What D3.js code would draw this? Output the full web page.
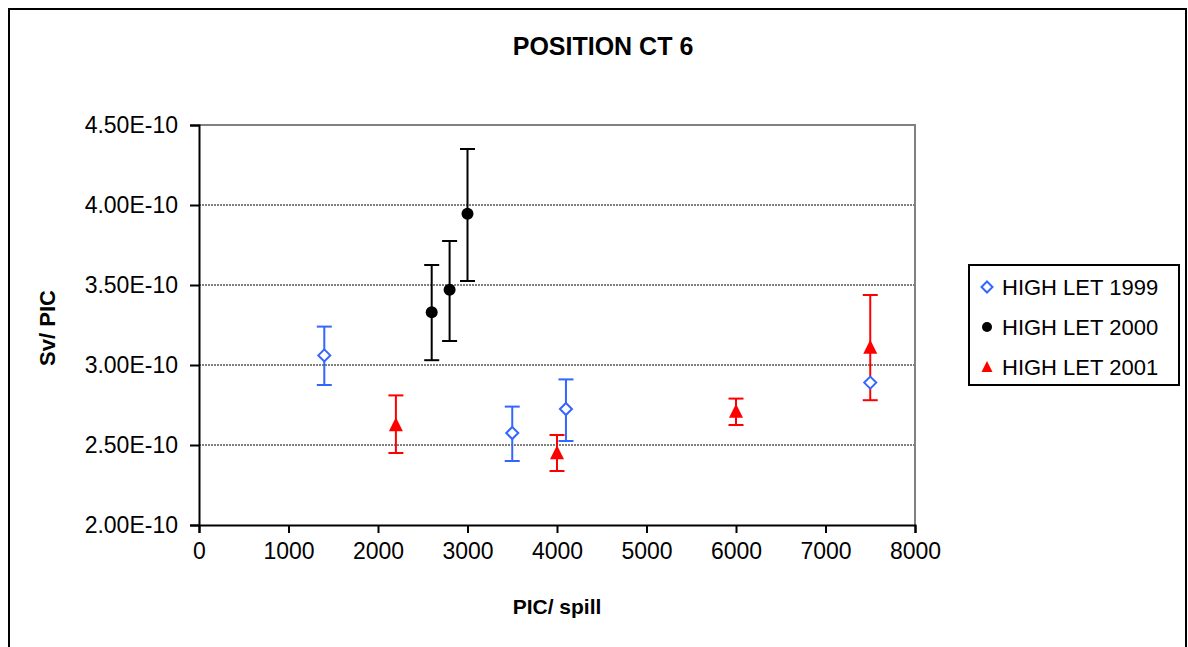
<!DOCTYPE html>
<html>
<head>
<meta charset="utf-8">
<script src="https://cdn.jsdelivr.net/npm/d3@7"></script>
<style>
  body { margin: 0; background: #fff; }
  svg { display: block; font-family: "Liberation Sans", Arial, sans-serif; }
</style>
</head>
<body>
<div id="chart"></div>
<script>
// Values (y in Sv/PIC)
const xTicks = [0, 1000, 2000, 3000, 4000, 5000, 6000, 7000, 8000];
const yTicks = [2.0e-10, 2.5e-10, 3.0e-10, 3.5e-10, 4.0e-10, 4.5e-10];

const names = ["HIGH LET 1999", "HIGH LET 2000", "HIGH LET 2001"];

const x1999 = [1400, 3500, 4100, 7500];
const y1999 = [3.06e-10, 2.575e-10, 2.725e-10, 2.89e-10];
const hi1999 = [3.24e-10, 2.74e-10, 2.91e-10, null];
const lo1999 = [2.875e-10, 2.40e-10, 2.525e-10, null];

const x2000 = [2600, 2800, 3000];
const y2000 = [3.33e-10, 3.47e-10, 3.945e-10];
const hi2000 = [3.625e-10, 3.775e-10, 4.35e-10];
const lo2000 = [3.03e-10, 3.15e-10, 3.525e-10];

const x2001 = [2200, 4000, 6000, 7500];
const y2001 = [2.625e-10, 2.45e-10, 2.71e-10, 3.11e-10];
const hi2001 = [2.81e-10, 2.5625e-10, 2.79e-10, 3.4375e-10];
const lo2001 = [2.45e-10, 2.3375e-10, 2.625e-10, 2.78e-10];

const width = 1188, height = 647;
const plot = {left: 199, right: 915, top: 125, bottom: 525};

const svg = d3.select("#chart").append("svg")
    .attr("width", width)
    .attr("height", height);

// outer frame (runs off the bottom of the picture)
svg.append("rect")
    .attr("x", 9).attr("y", 9)
    .attr("width", 1177).attr("height", 680)
    .attr("fill", "none")
    .attr("stroke", "#000")
    .attr("stroke-width", 2);

const x = d3.scaleLinear().domain([0, 8000]).range([plot.left, plot.right]);
const y = d3.scaleLinear().domain([2.0e-10, 4.5e-10]).range([plot.bottom, plot.top]);

// dotted gridlines
svg.append("g")
    .selectAll("line")
    .data(yTicks.slice(1, -1))
    .join("line")
    .attr("x1", plot.left).attr("x2", plot.right)
    .attr("y1", d => y(d)).attr("y2", d => y(d))
    .attr("stroke", "#000")
    .attr("stroke-width", 1)
    .attr("stroke-dasharray", "2,1");

// grey top and right border of the plot area
svg.append("path")
    .attr("d", `M${plot.left},${plot.top}H${plot.right}V${plot.bottom}`)
    .attr("fill", "none")
    .attr("stroke", "#808080")
    .attr("stroke-width", 2);

const yAxis = svg.append("g")
    .attr("transform", `translate(${plot.left},0)`)
    .call(d3.axisLeft(y).tickValues(yTicks).tickSize(9).tickPadding(12)
        .tickFormat(d => (d * 1e10).toFixed(2) + "E-10"));

const xAxis = svg.append("g")
    .attr("transform", `translate(0,${plot.bottom})`)
    .call(d3.axisBottom(x).tickValues(xTicks).tickSize(8).tickPadding(10)
        .tickFormat(d3.format("d")));

[xAxis, yAxis].forEach(function(a) {
    a.select(".domain").attr("stroke", "#000").attr("stroke-width", 2);
    a.selectAll(".tick line").attr("stroke", "#000").attr("stroke-width", 2);
    a.selectAll(".tick text").attr("fill", "#000").attr("font-family", "Liberation Sans, Arial, sans-serif");
});
yAxis.selectAll(".tick text").attr("font-size", 23);
xAxis.selectAll(".tick text").attr("font-size", 23);

// titles
svg.append("text")
    .attr("x", 603).attr("y", 55)
    .attr("text-anchor", "middle")
    .attr("font-size", 25).attr("font-weight", "bold")
    .text("POSITION CT 6");

svg.append("text")
    .attr("x", 557).attr("y", 614)
    .attr("text-anchor", "middle")
    .attr("font-size", 21).attr("font-weight", "bold")
    .text("PIC/ spill");

svg.append("text")
    .attr("transform", "translate(55,328) rotate(-90)")
    .attr("text-anchor", "middle")
    .attr("font-size", 22).attr("font-weight", "bold")
    .text("Sv/ PIC");

function rows(xs, ys, his, los) {
    return xs.map((d, i) => ({x: d, y: ys[i], hi: his[i], lo: los[i]}));
}

const series = [
    {name: names[0], color: "#3366FF", shape: "diamond", data: rows(x1999, y1999, hi1999, lo1999)},
    {name: names[1], color: "#000000", shape: "circle", data: rows(x2000, y2000, hi2000, lo2000)},
    {name: names[2], color: "#FF0000", shape: "triangle", data: rows(x2001, y2001, hi2001, lo2001)}
];

function marker(sel, s, size) {
    if (s.shape === "diamond") {
        sel.append("path")
            .attr("d", `M0,${-size}L${size},0L0,${size}L${-size},0Z`)
            .attr("fill", "#fff")
            .attr("stroke", s.color)
            .attr("stroke-width", 2);
    } else if (s.shape === "circle") {
        sel.append("circle").attr("r", size).attr("fill", s.color);
    } else {
        sel.append("path")
            .attr("d", `M0,${-size * 1.1}L${size},${size * 0.9}L${-size},${size * 0.9}Z`)
            .attr("fill", s.color);
    }
}

// error bars first, markers on top
const capW = 7.5;
series.forEach(function(s) {
    const g = svg.append("g")
        .attr("stroke", s.color)
        .attr("stroke-width", 2)
        .selectAll("g")
        .data(s.data.filter(d => d.hi != null))
        .join("g");
    g.append("line")
        .attr("x1", d => x(d.x)).attr("x2", d => x(d.x))
        .attr("y1", d => y(d.hi)).attr("y2", d => y(d.lo));
    g.append("line")
        .attr("x1", d => x(d.x) - capW).attr("x2", d => x(d.x) + capW)
        .attr("y1", d => y(d.hi)).attr("y2", d => y(d.hi));
    g.append("line")
        .attr("x1", d => x(d.x) - capW).attr("x2", d => x(d.x) + capW)
        .attr("y1", d => y(d.lo)).attr("y2", d => y(d.lo));
});

const markerSize = {diamond: 6, circle: 6, triangle: 7};
series.forEach(function(s) {
    svg.append("g")
        .selectAll("g")
        .data(s.data)
        .join("g")
        .attr("transform", d => `translate(${x(d.x)},${y(d.y)})`)
        .each(function() { marker(d3.select(this), s, markerSize[s.shape]); });
});

// legend
const legend = svg.append("g");
legend.append("rect")
    .attr("x", 969).attr("y", 265)
    .attr("width", 210).attr("height", 120)
    .attr("fill", "#fff")
    .attr("stroke", "#000")
    .attr("stroke-width", 2);

const items = legend.selectAll("g.item")
    .data(series)
    .join("g")
    .attr("class", "item")
    .attr("transform", (d, i) => `translate(987,${287 + i * 40})`);
items.each(function(s) {
    const g = d3.select(this);
    const size = s.shape === "circle" ? 5 : 5.5;
    marker(g, s, size);
});
items.append("text")
    .attr("x", 15).attr("y", 8)
    .attr("font-size", 22)
    .attr("fill", "#000")
    .text(d => d.name);
</script>
</body>
</html>
